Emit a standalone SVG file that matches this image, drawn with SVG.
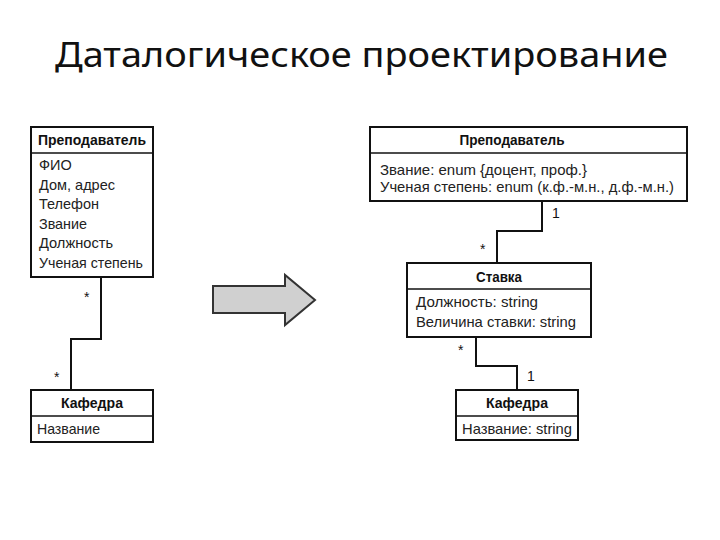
<svg xmlns="http://www.w3.org/2000/svg" width="720" height="540" viewBox="0 0 720 540">
<style>
.box{fill:#fff;stroke:#111;stroke-width:2}
.div{stroke:#111;stroke-width:1.5}
.hd{font-family:"Liberation Sans",Arial,sans-serif;font-weight:bold;font-size:14px;fill:#111;text-anchor:middle}
.at{font-family:"Liberation Sans",Arial,sans-serif;font-size:14.5px;fill:#222}
.ln{fill:none;stroke:#111;stroke-width:2}
.ml{font-family:"Liberation Sans",Arial,sans-serif;font-size:14px;fill:#111}
.title{font-family:"Noto Sans","Open Sans",sans-serif;font-size:34px;fill:#111}
</style>
<rect width="720" height="540" fill="#fff"/>
<text class="title" x="55" y="67" textLength="613" lengthAdjust="spacingAndGlyphs">Даталогическое проектирование</text>

<g id="left-prepodavatel">
<rect class="box" x="31" y="127" width="122" height="150"/>
<line class="div" x1="31" y1="153" x2="153" y2="153"/>
<text class="hd" x="92" y="145" textLength="108" lengthAdjust="spacingAndGlyphs">Преподаватель</text>
<text class="at" x="39" y="170">ФИО</text>
<text class="at" x="39" y="190" textLength="76" lengthAdjust="spacingAndGlyphs">Дом, адрес</text>
<text class="at" x="39" y="209" textLength="60" lengthAdjust="spacingAndGlyphs">Телефон</text>
<text class="at" x="39" y="229" textLength="48" lengthAdjust="spacingAndGlyphs">Звание</text>
<text class="at" x="39" y="248" textLength="74" lengthAdjust="spacingAndGlyphs">Должность</text>
<text class="at" x="39" y="268" textLength="104" lengthAdjust="spacingAndGlyphs">Ученая степень</text>
</g>

<g id="left-kafedra">
<rect class="box" x="31" y="390" width="122" height="52"/>
<line class="div" x1="31" y1="416" x2="153" y2="416"/>
<text class="hd" x="92" y="408" textLength="62" lengthAdjust="spacingAndGlyphs">Кафедра</text>
<text class="at" x="37" y="434" textLength="63" lengthAdjust="spacingAndGlyphs">Название</text>
</g>

<g id="arrow">
<polygon points="213,286 285,286 285,275 315,300 285,325 285,313 213,313" fill="#d0d0d0" stroke="#333" stroke-width="2" stroke-linejoin="miter"/>
</g>

<g id="right-prepodavatel">
<rect class="box" x="370" y="127" width="317" height="74"/>
<line class="div" x1="370" y1="153" x2="687" y2="153"/>
<text class="hd" x="512" y="145" textLength="105" lengthAdjust="spacingAndGlyphs">Преподаватель</text>
<text class="at" x="380" y="175" textLength="207" lengthAdjust="spacingAndGlyphs">Звание: enum {доцент, проф.}</text>
<text class="at" x="380" y="192" textLength="294" lengthAdjust="spacingAndGlyphs">Ученая степень: enum (к.ф.-м.н., д.ф.-м.н.)</text>
</g>

<g id="stavka">
<rect class="box" x="407" y="263" width="184" height="74"/>
<line class="div" x1="407" y1="289" x2="591" y2="289"/>
<text class="hd" x="499" y="282" textLength="46" lengthAdjust="spacingAndGlyphs">Ставка</text>
<text class="at" x="416" y="307" textLength="122" lengthAdjust="spacingAndGlyphs">Должность: string</text>
<text class="at" x="416" y="327" textLength="160" lengthAdjust="spacingAndGlyphs">Величина ставки: string</text>
</g>

<g id="right-kafedra">
<rect class="box" x="456" y="390" width="122" height="50"/>
<line class="div" x1="456" y1="416" x2="578" y2="416"/>
<text class="hd" x="517" y="408" textLength="62" lengthAdjust="spacingAndGlyphs">Кафедра</text>
<text class="at" x="462" y="434" textLength="110" lengthAdjust="spacingAndGlyphs">Название: string</text>
</g>

<g id="connectors">
<polyline class="ln" points="101,277 101,339 71,339 71,390"/>
<polyline class="ln" points="542,201 542,231 497,231 497,263"/>
<polyline class="ln" points="476,337 476,366 517,366 517,390"/>
<text class="ml" x="84" y="302">*</text>
<text class="ml" x="54" y="382">*</text>
<text class="ml" x="552" y="218">1</text>
<text class="ml" x="480" y="254">*</text>
<text class="ml" x="458" y="355">*</text>
<text class="ml" x="527" y="381">1</text>
</g>
</svg>
